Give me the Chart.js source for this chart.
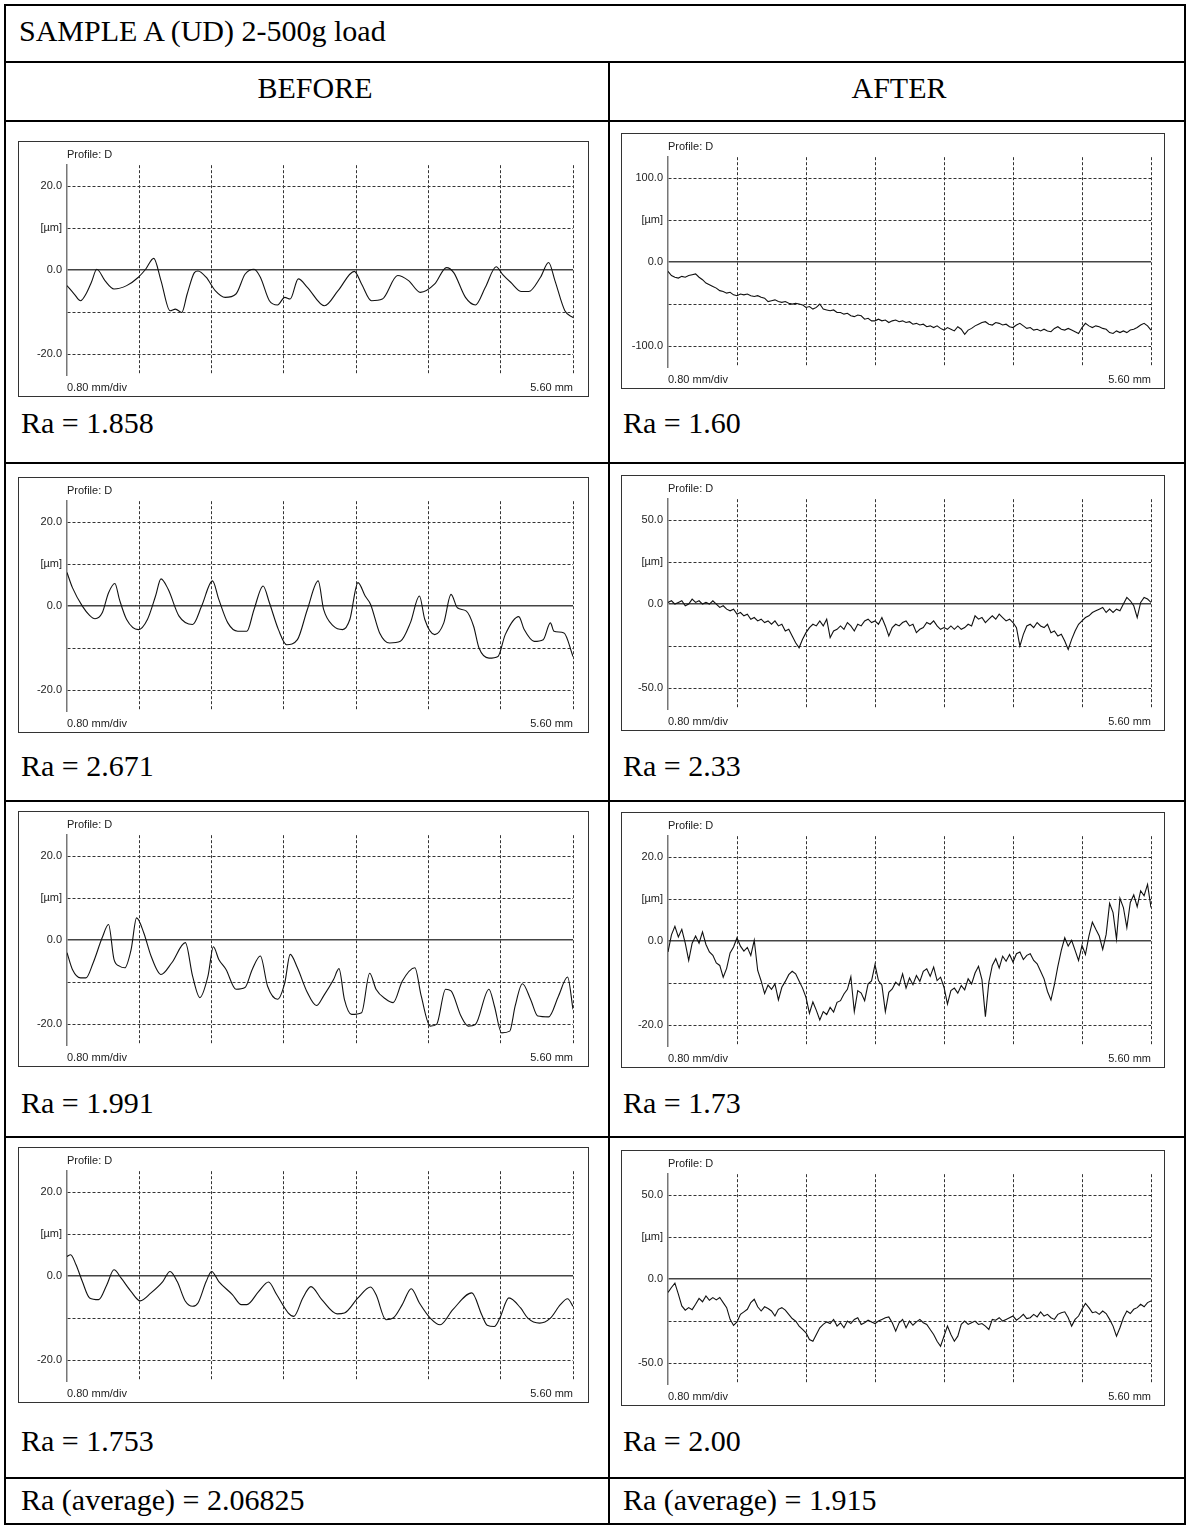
<!DOCTYPE html>
<html>
<head>
<meta charset="utf-8">
<title>Sample A profiles</title>
<script src="https://cdn.jsdelivr.net/npm/chart.js@4.4.0/dist/chart.umd.min.js"></script>
<style>
  body { margin: 0; background: #fff; }
  #sheet { position: relative; width: 1190px; height: 1529px; font-family: 'Liberation Serif', 'Times New Roman', serif; color: #000; overflow: hidden; }
  .hl { position: absolute; height: 2px; background: #000; }
  .vl { position: absolute; width: 2px; background: #000; }
  .txt { position: absolute; font-size: 30px; line-height: 1; white-space: nowrap; }
  .box { position: absolute; border: 1px solid #333; background: #fff; }
  .box canvas { display: block; }
</style>
</head>
<body>
<div id="sheet"></div>
<script>
// profile traces BEFORE: [mm, µm] pairs along the trace
const before1 = [[0,-3.7],[0.08,-5.7],[0.15,-7.3],[0.21,-5.7],[0.27,-2.9],[0.33,0.2],[0.42,-2.5],[0.52,-4.5],[0.66,-3.7],[0.79,-1.7],[0.87,0.2],[0.96,2.8],[1.04,-2.5],[1.14,-9.7],[1.2,-9.3],[1.27,-10.1],[1.33,-5.7],[1.41,-0.6],[1.45,-0.2],[1.54,-1.7],[1.64,-4.9],[1.75,-6.5],[1.87,-5.7],[1.97,-1.0],[2.07,0.2],[2.14,-1.7],[2.24,-7.3],[2.33,-8.3],[2.41,-6.5],[2.47,-6.9],[2.56,-2.1],[2.66,-4.1],[2.85,-8.5],[3.0,-4.9],[3.18,-0.3],[3.26,-3.3],[3.37,-7.3],[3.49,-6.9],[3.66,-1.3],[3.78,-2.5],[3.91,-5.3],[4.07,-3.3],[4.2,0.6],[4.28,-0.6],[4.41,-6.5],[4.52,-8.3],[4.63,-4.1],[4.75,0.8],[4.82,-1.0],[4.91,-2.9],[5.03,-5.1],[5.11,-5.1],[5.24,-1.7],[5.33,1.8],[5.4,-2.5],[5.51,-9.7],[5.6,-11.3]];
const before2 = [[0,8.0],[0.06,4.4],[0.17,0],[0.25,-2.2],[0.31,-3.0],[0.39,-1.6],[0.46,3.2],[0.53,5.4],[0.58,1.6],[0.66,-3.2],[0.79,-5.6],[0.89,-3.2],[0.98,2.4],[1.04,6.5],[1.12,4.0],[1.24,-2.4],[1.39,-4.4],[1.49,0],[1.61,6.0],[1.68,1.6],[1.78,-4.0],[1.89,-6.0],[1.99,-6.0],[2.07,-0.8],[2.17,4.8],[2.24,0.8],[2.34,-5.6],[2.43,-9.2],[2.55,-8.0],[2.66,-0.8],[2.78,6.0],[2.84,-0.8],[2.95,-4.8],[3.05,-5.6],[3.13,-3.2],[3.22,5.6],[3.3,2.4],[3.36,0.4],[3.46,-6.4],[3.57,-8.8],[3.69,-8.4],[3.8,-4.0],[3.9,2.4],[3.96,-3.2],[4.07,-6.8],[4.17,-4.0],[4.25,2.8],[4.32,-0.4],[4.42,-1.2],[4.5,-4.8],[4.56,-10.0],[4.67,-12.4],[4.77,-12.0],[4.85,-6.8],[5.0,-2.5],[5.06,-5.6],[5.17,-8.4],[5.27,-8.0],[5.35,-4.0],[5.39,-6.0],[5.5,-6.4],[5.6,-12.0]];
const before3 = [[0,-3.0],[0.06,-7.0],[0.15,-9.0],[0.21,-9.0],[0.29,-5.4],[0.39,0.6],[0.46,3.7],[0.52,-4.6],[0.58,-6.2],[0.64,-6.6],[0.71,-2.2],[0.77,5.3],[0.85,1.7],[0.93,-3.8],[1.04,-8.2],[1.16,-5.4],[1.31,-0.6],[1.39,-8.6],[1.47,-13.7],[1.56,-8.6],[1.62,-1.6],[1.68,-4.6],[1.76,-7.0],[1.87,-11.7],[1.97,-11.3],[2.05,-7.0],[2.14,-3.8],[2.22,-11.0],[2.33,-14.1],[2.41,-10.2],[2.47,-3.4],[2.55,-6.6],[2.66,-12.5],[2.76,-15.6],[2.84,-13.3],[2.95,-9.4],[3.01,-6.8],[3.07,-14.1],[3.15,-17.7],[3.26,-17.3],[3.35,-7.9],[3.42,-11.7],[3.53,-14.1],[3.61,-14.9],[3.71,-9.8],[3.85,-6.6],[3.92,-13.3],[4.02,-20.5],[4.09,-20.1],[4.19,-11.7],[4.25,-12.1],[4.36,-18.1],[4.44,-20.5],[4.52,-20.1],[4.67,-11.7],[4.73,-15.7],[4.81,-22.1],[4.9,-21.7],[4.96,-15.7],[5.04,-10.4],[5.13,-14.1],[5.21,-18.1],[5.33,-18.3],[5.44,-13.3],[5.54,-8.8],[5.6,-16.5]];
const before4 = [[0,4.7],[0.04,5.1],[0.1,2.7],[0.17,-1.3],[0.25,-5.2],[0.35,-5.6],[0.44,-2.1],[0.52,1.5],[0.6,-0.5],[0.71,-3.7],[0.81,-5.9],[0.93,-4.0],[1.06,-1.3],[1.14,1.1],[1.22,-1.3],[1.31,-6.0],[1.39,-7.2],[1.45,-6.4],[1.54,-1.3],[1.6,1.1],[1.68,-1.3],[1.83,-4.4],[1.93,-6.8],[1.99,-6.8],[2.12,-3.7],[2.23,-1.4],[2.32,-4.4],[2.45,-8.8],[2.51,-9.6],[2.61,-5.2],[2.7,-2.5],[2.82,-5.6],[2.99,-9.0],[3.07,-8.8],[3.22,-5.2],[3.36,-2.6],[3.42,-4.4],[3.53,-10.4],[3.61,-10.0],[3.71,-6.8],[3.81,-3.0],[3.9,-6.4],[4.02,-10.0],[4.13,-11.6],[4.27,-8.0],[4.48,-4.0],[4.59,-9.2],[4.65,-11.7],[4.73,-12.0],[4.79,-10.0],[4.89,-5.2],[5.02,-7.6],[5.1,-10.0],[5.23,-11.2],[5.35,-10.0],[5.46,-6.8],[5.54,-5.4],[5.6,-7.2]];

// profile traces AFTER: µm sampled every afterStep mm from 0 to 5.6
const afterStep = 0.04;
const after1 = [-11,-16,-18,-19,-17,-18,-16,-15,-14,-18,-21,-25,-27,-29,-31,-34,-35,-37,-36,-39,-40,-38,-39,-38,-40,-41,-40,-42,-43,-47,-46,-45,-47,-48,-47,-49,-50,-49,-50,-51,-54,-53,-56,-54,-50,-56,-57,-58,-57,-60,-60,-62,-61,-64,-65,-63,-64,-68,-67,-70,-70,-68,-70,-69,-72,-70,-69,-71,-70,-72,-71,-74,-73,-75,-74,-77,-76,-78,-76,-79,-81,-78,-80,-82,-77,-80,-86,-81,-79,-76,-74,-72,-71,-74,-75,-72,-73,-75,-74,-77,-78,-75,-73,-76,-79,-78,-81,-80,-82,-80,-82,-83,-79,-77,-80,-81,-79,-81,-83,-85,-78,-73,-76,-78,-76,-77,-79,-80,-84,-85,-82,-84,-82,-84,-81,-80,-78,-75,-73,-76,-81];
const after2 = [1,2,0,1,2,-1,0,3,1,2,0,1,0,2,0,-2,-1,-3,-4,-3,-6,-5,-7,-6,-9,-8,-10,-9,-11,-10,-12,-10,-13,-12,-16,-15,-19,-23,-26,-21,-17,-14,-12,-13,-10,-13,-9,-20,-16,-15,-13,-15,-11,-13,-16,-12,-13,-10,-9,-11,-10,-12,-8,-13,-19,-14,-12,-13,-11,-10,-13,-12,-17,-15,-14,-11,-12,-10,-13,-15,-14,-15,-13,-15,-13,-15,-14,-12,-13,-7,-9,-8,-11,-9,-7,-9,-6,-8,-10,-9,-11,-14,-25,-18,-13,-12,-14,-11,-13,-14,-12,-17,-16,-19,-18,-22,-27,-21,-16,-12,-10,-8,-7,-5,-4,-3,-2,-5,-3,-5,-3,-4,0,4,2,-1,-8,1,4,3,1];
const after3 = [-2.6,1.5,3.5,1,2.8,-0.5,-4.6,-0.5,1.2,-0.5,2.2,-0.8,-2.6,-3.4,-5.2,-5.8,-8.6,-6.5,-2.8,-1.4,0.8,-1.2,-2.4,-1.5,-3.4,0.2,-7,-9.5,-12.5,-10.5,-11.5,-10.2,-14,-11,-9.6,-8,-7.2,-7.8,-9.5,-11.2,-13.4,-17.2,-14.5,-16.5,-18.8,-16.8,-17.5,-15.8,-16.9,-14.6,-14.2,-12.6,-11.5,-8.5,-16.8,-11.8,-12.4,-14.2,-10.2,-9.5,-5.6,-9.4,-10.5,-16.8,-12.2,-11.4,-9.8,-10.6,-7.8,-11.2,-8.8,-10.4,-8.2,-9.6,-7.2,-6.6,-8.4,-6.2,-9.4,-8.6,-11,-15,-11.8,-11.2,-12.4,-10.6,-11.6,-9,-10.2,-7.6,-6,-9.2,-18,-9.8,-5.8,-4.2,-6.4,-3.6,-4.8,-3.2,-5,-3,-2.6,-4.4,-3.4,-3,-4.6,-5.4,-7.2,-9,-12,-14,-10.4,-6,-2.2,0.8,-1.2,0.2,-2.2,-4.6,-1,-3.2,1.2,4.5,2.8,1.2,-2,1.6,9,6.8,0.5,10.2,8,3.2,9.2,11,8.2,12,10.8,13.5,8];
const after4 = [-8,-5,-2.4,-9,-16,-18.5,-17,-18.2,-15,-11.5,-13.5,-10,-12.6,-11,-12.4,-11,-14,-17,-24,-27.6,-25.5,-21,-19.5,-18,-14,-12,-16.5,-19,-16.5,-17.5,-19,-22,-18,-17,-18.5,-21,-23.5,-25,-28,-30,-32,-36,-37,-33,-29,-27,-25.5,-26.5,-24,-28,-26,-29,-25,-26.5,-24,-23,-27,-26,-24.5,-25.5,-26.5,-25,-24,-23,-22.5,-26,-31,-26,-24,-29,-25,-27.5,-25.5,-24,-26,-27,-30,-33,-37,-40,-34,-28,-33,-37,-34,-27,-25,-27,-26,-25,-27,-26.5,-28,-30,-24,-24.5,-23,-25,-24,-23,-22,-24.5,-23,-21,-23.5,-23,-21,-22.5,-19.5,-22,-21,-23,-24,-21,-20,-19.5,-23,-28,-24,-22,-18,-14.5,-17,-20,-19.5,-21,-19,-20.5,-24,-28,-34,-29,-23,-19,-20.5,-18,-17,-15,-16.5,-14,-13];

// vertical full-scale of each plot (µm), gridline every half of it
const rangeBefore = [20, 20, 20, 20];
const rangeAfter = [100, 50, 20, 50];
const raBefore = ['1.858', '2.671', '1.991', '1.753'];
const raAfter = ['1.60', '2.33', '1.73', '2.00'];
const raAverage = ['2.06825', '1.915'];
const xTicks = [0, 0.8, 1.6, 2.4, 3.2, 4.0, 4.8, 5.6];

Chart.defaults.font.family = "'Liberation Sans', Arial, sans-serif";

const sheet = document.getElementById('sheet');

function add(cls, css, text) {
  const d = document.createElement('div');
  d.className = cls;
  Object.assign(d.style, css);
  if (text) d.textContent = text;
  sheet.appendChild(d);
  return d;
}

// table rules
[4, 61, 120, 462, 800, 1136, 1477, 1523].forEach(y => add('hl', { left: '4px', top: y + 'px', width: '1182px' }));
add('vl', { left: '4px', top: '4px', height: '1521px' });
add('vl', { left: '1184px', top: '4px', height: '1521px' });
add('vl', { left: '608px', top: '61px', height: '1464px' });

add('txt', { left: '19px', top: '16px' }, 'SAMPLE A (UD) 2-500g load');
add('txt', { left: '14px', width: '602px', textAlign: 'center', top: '73px' }, 'BEFORE');
add('txt', { left: '612px', width: '574px', textAlign: 'center', top: '73px' }, 'AFTER');

const boxTopBefore = [141, 477, 811, 1147];
const boxTopAfter = [133, 475, 812, 1150];
const raTop = [408, 751, 1088, 1426];

function profileChart(canvas, points, range, axisW, padRight, smooth) {
  const yTicks = [-range, -range / 2, 0, range / 2, range];
  const yLabel = v => v === range ? range.toFixed(1) : v === range / 2 ? '[µm]' : v === 0 ? '0.0' : v === -range ? (-range).toFixed(1) : '';
  return new Chart(canvas, {
    type: 'line',
    data: {
      datasets: [{
        data: points,
        borderColor: '#111',
        borderWidth: 1.1,
        pointRadius: 0,
        fill: false,
        tension: 0,
        cubicInterpolationMode: smooth ? 'monotone' : 'default'
      }]
    },
    options: {
      responsive: false,
      animation: false,
      devicePixelRatio: 1,
      parsing: false,
      layout: { padding: { left: 0, right: padRight, top: 0, bottom: 0 } },
      plugins: {
        legend: { display: false },
        tooltip: { enabled: false },
        title: {
          display: true, text: 'Profile: D', align: 'start', fullSize: false,
          color: '#222', font: { size: 11, weight: 'normal' }, padding: { top: 6, bottom: 4 }
        }
      },
      scales: {
        x: {
          type: 'linear', min: 0, max: 5.6,
          afterBuildTicks: s => { s.ticks = xTicks.map(v => ({ value: v })); },
          afterFit: s => { s.height = 21; },
          grid: { color: c => c.tick && c.tick.value > 0 ? '#333' : 'rgba(0,0,0,0)', drawTicks: false, lineWidth: 1 },
          border: { display: false, dash: [3, 2] },
          ticks: {
            autoSkip: false, maxRotation: 0, align: 'inner', padding: 6, color: '#222', font: { size: 11 },
            callback: v => v === 0 ? '0.80 mm/div' : v === 5.6 ? '5.60 mm' : ''
          }
        },
        y: {
          type: 'linear', min: -1.25 * range, max: 1.25 * range,
          afterBuildTicks: s => { s.ticks = yTicks.map(v => ({ value: v })); },
          afterFit: s => { s.width = axisW; },
          grid: {
            color: c => c.tick && c.tick.value === 0 ? '#444' : '#333',
            lineWidth: c => c.tick && c.tick.value === 0 ? 1.6 : 1,
            drawTicks: false
          },
          border: { display: true, color: '#777', width: 1.5, dash: c => c.tick && c.tick.value !== 0 ? [3, 2] : [] },
          ticks: { padding: 5, color: '#222', font: { size: 11 }, callback: yLabel }
        }
      }
    }
  });
}

function makeBox(left, top, w, h) {
  const box = add('box', { left: left + 'px', top: top + 'px' });
  const c = document.createElement('canvas');
  c.width = w; c.height = h;
  c.style.width = w + 'px'; c.style.height = h + 'px';
  box.appendChild(c);
  return c;
}

const beforeSets = [before1, before2, before3, before4];
const afterSets = [after1, after2, after3, after4];

for (let r = 0; r < 4; r++) {
  const cb = makeBox(18, boxTopBefore[r], 569, 254);
  profileChart(cb, beforeSets[r].map(p => ({ x: p[0], y: p[1] })), rangeBefore[r], 48, 15, true);

  const ca = makeBox(621, boxTopAfter[r], 542, 254);
  profileChart(ca, afterSets[r].map((v, i) => ({ x: +(i * afterStep).toFixed(2), y: v })), rangeAfter[r], 46, 13, false);

  add('txt', { left: '21px', top: raTop[r] + 'px' }, 'Ra = ' + raBefore[r]);
  add('txt', { left: '623px', top: raTop[r] + 'px' }, 'Ra = ' + raAfter[r]);
}

add('txt', { left: '21px', top: '1485px' }, 'Ra (average) = ' + raAverage[0]);
add('txt', { left: '623px', top: '1485px' }, 'Ra (average) = ' + raAverage[1]);
</script>
</body>
</html>
